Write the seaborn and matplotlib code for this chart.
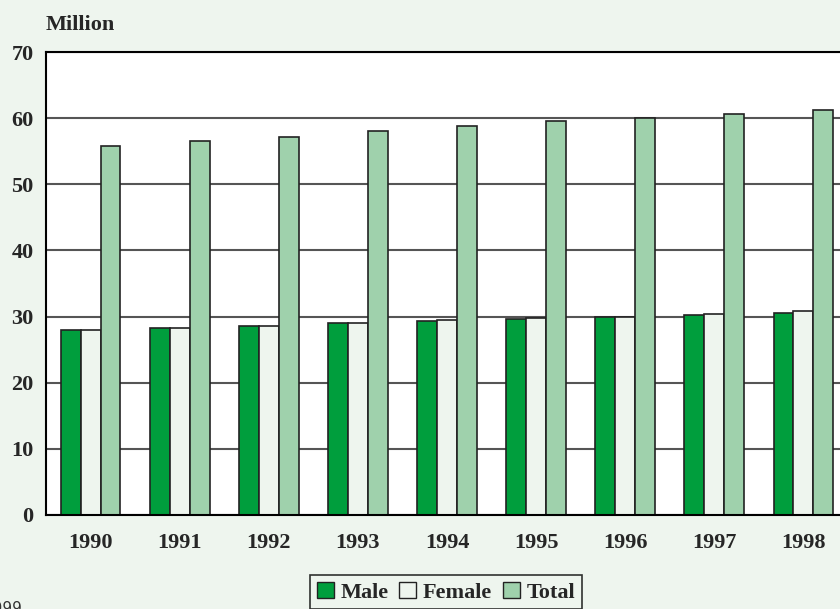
import pandas as pd
import matplotlib.pyplot as plt
import seaborn as sns

# values (million)
years = ['1990', '1991', '1992', '1993', '1994', '1995', '1996', '1997', '1998']
male = [27.9, 28.3, 28.6, 29.0, 29.3, 29.7, 30.0, 30.2, 30.5]
female = [28.0, 28.3, 28.6, 29.0, 29.5, 29.8, 30.0, 30.4, 30.8]
total = [55.8, 56.6, 57.2, 58.0, 58.8, 59.5, 60.0, 60.6, 61.2]
series = ['Male', 'Female', 'Total']
y_ticks = [0, 10, 20, 30, 40, 50, 60, 70]

df = pd.DataFrame({
    'Year': years * 3,
    'Value': male + female + total,
    'Series': ['Male'] * len(years) + ['Female'] * len(years) + ['Total'] * len(years),
})

bg = '#EEF5EE'
colors = {'Male': '#009E3D', 'Female': '#EEF5EE', 'Total': '#9FD1AC'}

sns.set_style('white')
plt.rcParams['font.family'] = ['Liberation Serif', 'DejaVu Serif']
plt.rcParams['font.weight'] = 'bold'

fig = plt.figure(figsize=(8.4, 6.09), dpi=100, facecolor=bg)
ax = fig.add_axes([46 / 840, 94 / 609, 802 / 840, 463 / 609])
ax.set_facecolor('white')

sns.barplot(data=df, x='Year', y='Value', hue='Series', hue_order=series,
            palette=colors, width=0.67, edgecolor='#222222', linewidth=1.2,
            saturation=1, ax=ax, legend=False)

ax.set_xlim(-0.5, 8.5)
ax.set_ylim(0, 70)
ax.set_yticks(y_ticks)
ax.set_yticklabels([str(t) for t in y_ticks], fontsize=16, fontweight='bold')
ax.set_xticks(range(len(years)))
ax.set_xticklabels(years, fontsize=16, fontweight='bold')
ax.set_xlabel('')
ax.set_ylabel('')

# tick marks on the category boundaries
ax.set_xticks([i + 0.5 for i in range(-1, len(years))], minor=True)
ax.tick_params(axis='x', which='major', length=0, pad=13)
ax.tick_params(axis='x', which='minor', length=5, width=1.2, color='black', direction='out')
ax.tick_params(axis='y', length=5, width=1.2, color='black', direction='out', pad=4)

ax.yaxis.grid(True, color='#555555', linewidth=1.5)
ax.set_axisbelow(True)
for side in ['left', 'bottom', 'top', 'right']:
    ax.spines[side].set_visible(True)
    ax.spines[side].set_color('black')
    ax.spines[side].set_linewidth(1.5)

fig.text(46 / 840, 1 - 25 / 609, 'Million', fontsize=16, fontweight='bold',
         ha='left', va='center')

handles = [plt.Rectangle((0, 0), 1, 1, facecolor=colors[s], edgecolor='#222222', linewidth=1)
           for s in series]
leg = fig.legend(handles, series, loc='upper center', bbox_to_anchor=(446 / 840, 1 - 564 / 609),
                 ncol=3, fontsize=16, frameon=True, fancybox=False, handlelength=0.75,
                 handleheight=0.75, handletextpad=0.3, columnspacing=0.5, borderpad=0.3)
leg.get_frame().set_edgecolor('black')
leg.get_frame().set_linewidth(1.2)
leg.get_frame().set_facecolor(bg)
for t in leg.get_texts():
    t.set_fontweight('bold')

fig.text(22 / 840, 1 - 601 / 609, '1999', fontsize=11, family='DejaVu Sans',
         fontweight='normal', color='#333333', ha='right', va='top')

plt.savefig('out.png', dpi=100, facecolor=bg)
